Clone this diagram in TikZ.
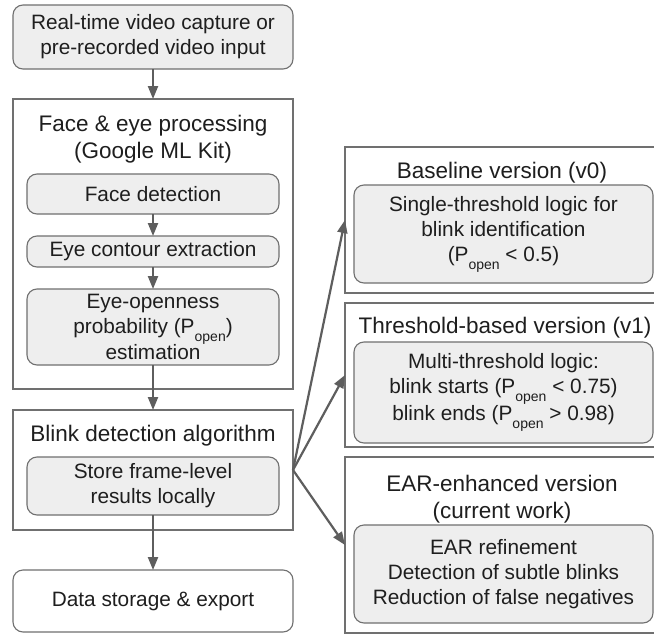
\documentclass[tikz,border=0pt]{standalone}
\usepackage{fontspec}
\setmainfont{Liberation Sans}
\usetikzlibrary{arrows.meta}
\definecolor{boxfill}{HTML}{EEEEEE}
\definecolor{boxline}{HTML}{707070}
\definecolor{arrowc}{HTML}{5E5E5E}
\definecolor{txt}{HTML}{1E1E1E}
\newcommand{\popen}{P\raisebox{-0.38em}{\fontsize{14}{14}\selectfont open}}
\begin{document}
\begin{tikzpicture}[x=1pt,y=-1pt,
  every node/.style={inner sep=0pt, outer sep=0pt, text=txt, align=center},
  bodytext/.style={font=\fontsize{20.8}{25}\selectfont},
  titletext/.style={font=\fontsize{22.5}{27}\selectfont},
  graybox/.style={bodytext, draw=boxline, line width=1.1pt, fill=boxfill, rounded corners=10pt},
  whitebox/.style={bodytext, draw=boxline, line width=1.1pt, fill=white, rounded corners=10pt},
  groupbox/.style={draw=boxline, line width=1.1pt},
  flow/.style={draw=arrowc, line width=2.2pt, -{Triangle[length=13pt,width=10pt]}}
]
\clip (0,0) rectangle (654,635);
\fill[white] (0,0) rectangle (654,635);

% left column
\node[graybox, minimum width=280pt, minimum height=64pt] (input) at (153,37)
  {Real-time video capture or\\pre-recorded video input};

\node[groupbox, minimum width=280pt, minimum height=290pt] (g1) at (153,244) {};
\node[titletext] (g1t) at (153,139) {Face \& eye processing\\(Google ML Kit)};
\node[graybox, minimum width=252pt, minimum height=40pt] (fd) at (153,194) {Face detection};
\node[graybox, minimum width=252pt, minimum height=31pt] (ec) at (153,251.5) {Eye contour extraction};
\node[graybox, minimum width=252pt, minimum height=76pt] (eo) at (153,327)
  {Eye-openness\\probability (\popen)\\estimation};

\node[groupbox, minimum width=280pt, minimum height=120pt] (g2) at (153,470) {};
\node[titletext] (g2t) at (153,436) {Blink detection algorithm};
\node[graybox, minimum width=252pt, minimum height=58pt] (sf) at (153,486)
  {Store frame-level\\results locally};

\node[whitebox, minimum width=280pt, minimum height=62pt] (ds) at (153,601)
  {Data storage \& export};

% right column
\node[groupbox, minimum width=325pt, minimum height=146pt] (b0) at (507.5,220) {};
\node[titletext] (b0t) at (502,173) {Baseline version (v0)};
\node[graybox, minimum width=299pt, minimum height=98pt] (b0i) at (503.5,234)
  {Single-threshold logic for\\blink identification\\(\popen{} {\textless} 0.5)};

\node[groupbox, minimum width=325pt, minimum height=144pt] (b1) at (507.5,375) {};
\node[titletext] (b1t) at (505,328) {Threshold-based version (v1)};
\node[graybox, minimum width=299pt, minimum height=101pt] (b1i) at (503.5,392.5)
  {Multi-threshold logic:\\blink starts (\popen{} {\textless} 0.75)\\blink ends (\popen{} {\textgreater} 0.98)};

\node[groupbox, minimum width=325pt, minimum height=176pt] (b2) at (507.5,545) {};
\node[titletext] (b2t) at (502,499) {EAR-enhanced version\\(current work)};
\node[graybox, minimum width=299pt, minimum height=98pt] (b2i) at (503.5,574)
  {EAR refinement\\Detection of subtle blinks\\Reduction of false negatives};

% connectors
\draw[flow] (input.south) -- (g1.north);
\draw[flow] (fd.south) -- (ec.north);
\draw[flow] (ec.south) -- (eo.north);
\draw[flow] (eo.south) -- (g2.north);
\draw[flow] (sf.south) -- (ds.north);
\draw[flow] (g2.east) -- (b0.west);
\draw[flow] (g2.east) -- (b1.west);
\draw[flow] (g2.east) -- (b2.west);
\end{tikzpicture}
\end{document}
